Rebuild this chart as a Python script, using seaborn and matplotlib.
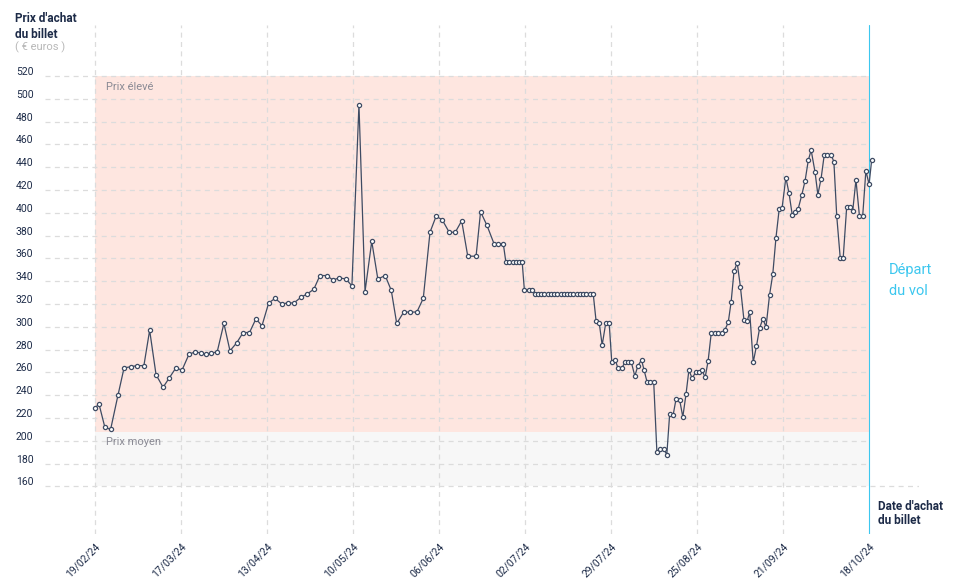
import numpy as np
import pandas as pd
import matplotlib
matplotlib.use("Agg")
import matplotlib.pyplot as plt
import matplotlib.transforms as mtransforms
import seaborn as sns

# Price readings (days since 19/02/24, price in euros)
days = [0.0, 1.4, 3.2, 5.0, 7.3, 9.2, 11.3, 13.3, 15.4, 17.2, 19.2, 21.4, 23.3, 25.4, 27.3,
        29.5, 31.4, 33.4, 34.9, 36.4, 38.3, 40.4, 42.3, 44.4, 46.4, 48.4, 50.4, 52.3, 54.4,
        56.4, 58.5, 60.3, 62.3, 64.5, 66.5, 68.5, 70.4, 72.6, 74.5, 76.4, 78.5, 80.4, 82.6,
        84.5, 86.6, 88.5, 90.8, 92.7, 94.4, 96.6, 98.6, 100.7, 102.7, 104.8, 106.7, 108.6,
        110.8, 112.7, 114.7, 116.6, 119.2, 120.6, 122.6, 124.8, 126.2, 127.7, 128.5, 129.5,
        130.6, 131.6, 132.7, 133.6, 134.3, 135.6, 136.6, 137.7, 138.7, 139.6, 140.5, 141.7,
        142.6, 143.5, 144.6, 145.6, 146.7, 147.6, 148.5, 149.6, 150.6, 151.7, 152.6, 153.6,
        154.7, 155.8, 156.7, 157.7, 158.6, 159.7, 160.8, 161.6, 162.7, 163.5, 164.8, 165.7,
        166.7, 167.7, 168.8, 169.8, 170.9, 171.7, 172.6, 173.6, 174.7, 175.7, 176.7, 177.8,
        178.8, 179.7, 180.8, 181.7, 182.8, 183.8, 184.8, 185.7, 186.7, 187.8, 188.8, 189.7,
        190.8, 191.7, 192.7, 193.8, 194.8, 195.9, 196.9, 198.0, 198.9, 199.8, 200.8, 201.8,
        202.9, 203.9, 204.7, 205.8, 206.8, 207.8, 208.8, 209.8, 210.9, 211.9, 212.9, 213.9,
        214.8, 216.0, 217.0, 218.0, 218.9, 219.8, 221.0, 222.0, 223.0, 223.9, 225.1, 226.0,
        227.0, 228.0, 229.0, 230.1, 231.0, 231.9, 233.0, 233.9, 235.0, 236.0, 236.9, 237.9,
        239.0, 240.0, 241.0, 242.0, 242.8]
prices = [229, 232, 212, 210, 240, 264, 265, 266, 266, 297, 258, 247, 255, 264, 262,
          276, 278, 277, 276, 277, 278, 303, 279, 286, 295, 295, 307, 301, 321,
          325, 320, 321, 321, 326, 329, 333, 345, 345, 341, 343, 342, 336, 495,
          331, 375, 342, 345, 332, 303, 313, 313, 313, 325, 383, 397, 394,
          383, 383, 393, 362, 362, 401, 389, 373, 373, 373, 357, 357,
          357, 357, 357, 357, 332, 332, 332, 329, 329, 329, 329, 329,
          329, 329, 329, 329, 329, 329, 329, 329, 329, 329, 329, 329,
          329, 329, 305, 303, 284, 303, 303, 269, 271, 264, 264, 269,
          269, 269, 257, 266, 271, 262, 252, 252, 252, 190, 193, 193,
          188, 224, 223, 237, 236, 221, 241, 262, 255, 260, 260, 262,
          256, 270, 295, 295, 295, 295, 297, 304, 322, 349, 356, 335,
          306, 305, 313, 269, 283, 299, 307, 300, 328, 346, 378, 403,
          404, 431, 417, 398, 401, 403, 416, 428, 446, 455, 436, 416,
          430, 451, 451, 451, 445, 397, 360, 360, 405, 405, 402, 429,
          397, 397, 437, 425, 446]

tick_labels = ["19/02/24", "17/03/24", "13/04/24", "10/05/24", "06/06/24",
               "02/07/24", "29/07/24", "25/08/24", "21/09/24", "18/10/24"]
tick_days = np.linspace(0, 242, len(tick_labels))
y_ticks = [160, 180, 200, 220, 240, 260, 280, 300, 320, 340, 360, 380, 400,
           420, 440, 460, 480, 500, 520]
band_mid = 207.5  # frontier between "Prix moyen" and "Prix élevé"

df = pd.DataFrame({"day": days, "price": prices})

sns.set_style("white")
plt.rcParams["font.family"] = ["Roboto", "DejaVu Sans"]

navy = "#1d2b48"
line_col = "#3e4b63"
grid_col = "#dcdcdc"
cyan = "#3cc7ef"

fig = plt.figure(figsize=(9.58, 5.85), dpi=100)
W, H = 958, 585
# axes from px x 45..919, y 25..534
ax = fig.add_axes([45 / W, 1 - 534 / H, (919 - 45) / W, (534 - 25) / H])
ax.set_xlim(-15.5, 257.6)
ax.set_ylim(118.3, 564.8)
for s in ax.spines.values():
    s.set_visible(False)

# bands
ax.fill_between([0, 242], band_mid, 520, color="#fee6e0", zorder=0, lw=0)
ax.fill_between([0, 242], 160, band_mid, color="#f7f7f7", zorder=0, lw=0)

# grid
dash = (0, (4, 3.5))
for v in y_ticks:
    x1 = 257.6 if v == 160 else 242
    ax.hlines(v, -15.5, x1, color=grid_col, lw=0.9, linestyles=[dash], zorder=1)
ax.vlines(tick_days[:-1], 118.3, 564.8, color=grid_col, lw=0.9, linestyles=[dash], zorder=1)
ax.axvline(242, color=cyan, lw=0.8, zorder=3)

sns.lineplot(data=df, x="day", y="price", ax=ax, color=line_col, lw=0.9, sort=False,
             marker="o", markersize=3.0, markerfacecolor="white",
             markeredgecolor=line_col, markeredgewidth=0.9, zorder=4)

ax.set_xlabel("")
ax.set_ylabel("")
ax.set_yticks([])
ax.set_xticks(tick_days)
ax.set_xticklabels(tick_labels, rotation=45, ha="right", rotation_mode="anchor",
                   fontsize=7.5, color=navy)
ax.tick_params(axis="x", length=0, pad=5)

# y tick labels at the far left
trans = mtransforms.blended_transform_factory(fig.transFigure, ax.transData)
for v in y_ticks:
    ax.text(16 / W, v + 3.5, str(v), transform=trans, ha="left", va="center",
            fontsize=7.5, color=navy)

ax.text(3.5, 515, "Prix élevé", ha="left", va="top", fontsize=8, color="#8a8a94")
ax.text(3.5, 203, "Prix moyen", ha="left", va="top", fontsize=8, color="#8a8a94")

# titles
fig.text(15 / W, 1 - 18 / H, "Prix d'achat", ha="left", va="center", fontsize=8.5,
         fontweight="bold", color=navy)
fig.text(15 / W, 1 - 34 / H, "du billet", ha="left", va="center", fontsize=8.5,
         fontweight="bold", color=navy)
fig.text(15 / W, 1 - 47 / H, "( € euros )", ha="left", va="center", fontsize=8,
         color="#b8b8b8")
fig.text(889 / W, 1 - 270 / H, "Départ", ha="left", va="center", fontsize=10.5, color=cyan)
fig.text(889 / W, 1 - 291 / H, "du vol", ha="left", va="center", fontsize=10.5, color=cyan)
fig.text(878 / W, 1 - 506 / H, "Date d'achat", ha="left", va="center", fontsize=8.5,
         fontweight="bold", color=navy)
fig.text(878 / W, 1 - 521 / H, "du billet", ha="left", va="center", fontsize=8.5,
         fontweight="bold", color=navy)

fig.savefig("out.png", dpi=100)
